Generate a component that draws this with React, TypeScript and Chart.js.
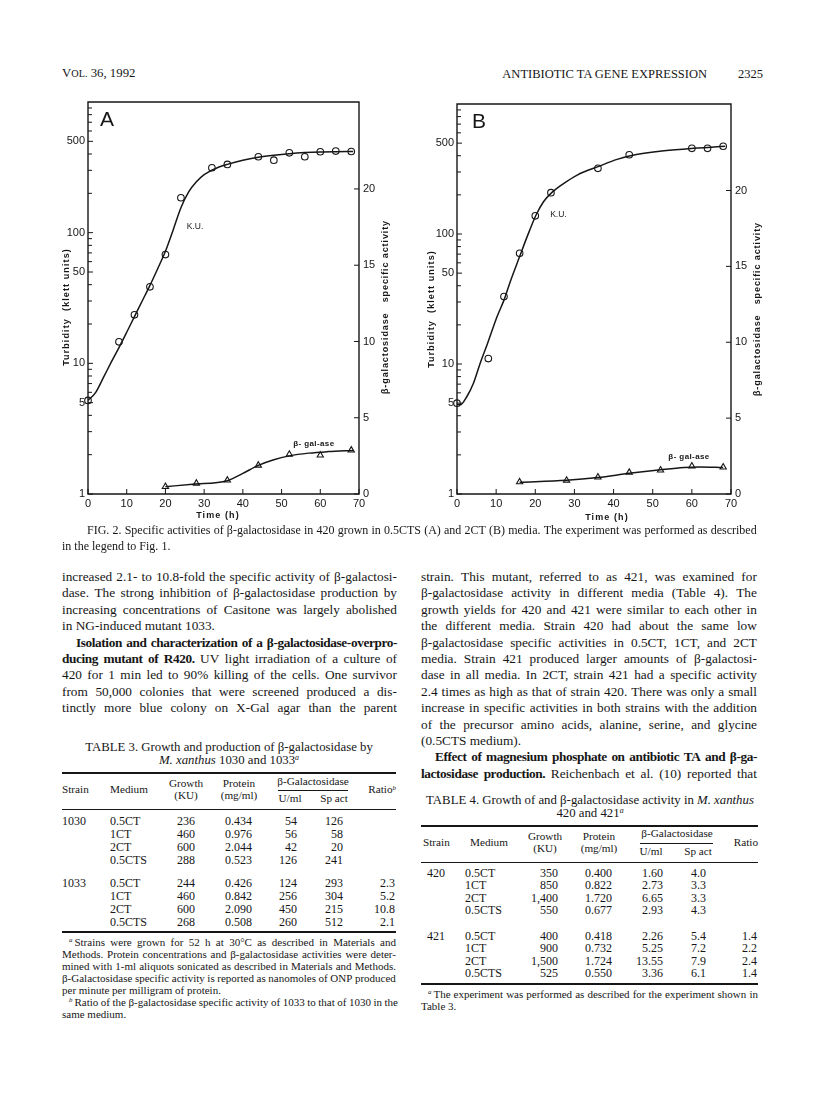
import React, { useEffect, useRef } from "react";
import { Chart, registerables } from "chart.js";

Chart.register(...registerables);

const INK = "#161616";
const SANS = '"Liberation Sans", Arial, Helvetica, sans-serif';
const SERIF = '"Liberation Serif", "Times New Roman", Times, serif';

// ---------- Figure 2A (0.5CTS) ----------
const kuHoursA = [0, 8, 12, 16, 20, 24, 32, 36, 44, 48, 52, 56, 60, 64, 68];
const kuValuesA = [5.2, 14.6, 23.5, 38.5, 68, 185, 314, 333, 381, 359, 408, 381, 416, 421, 418];
const kuCurveHoursA = [0, 2, 4, 6, 8, 10, 12, 14, 16, 18, 20, 22, 24, 26, 28, 30, 33, 36, 40, 44, 48, 52, 56, 60, 64, 68.5];
const kuCurveA = [5.2, 6.0, 7.8, 10.2, 13.2, 17.3, 22.8, 30, 39.5, 53, 72, 105, 155, 205, 245, 278, 310, 333, 358, 377, 391, 402, 410, 415, 417, 418];
const galHoursA = [20, 28, 36, 44, 52, 60, 68];
const galValuesA = [0.48, 0.7, 0.9, 1.88, 2.6, 2.54, 2.87];
const galCurveHoursA = [20, 27, 36, 40, 44, 48, 52, 57, 62, 68.5];
const galCurveA = [0.48, 0.64, 0.87, 1.35, 1.88, 2.25, 2.5, 2.68, 2.78, 2.86];

// ---------- Figure 2B (2CT) ----------
const kuHoursB = [0, 8, 12, 16, 20, 24, 36, 44, 60, 64, 68];
const kuValuesB = [5.0, 11.0, 33, 71, 138, 208, 320, 407, 456, 456, 473];
const kuCurveHoursB = [0, 0.8, 2.5, 4.2, 5.9, 7.8, 10.2, 12, 13.6, 16, 17.9, 20.2, 22.1, 24.2, 27.3, 30.7, 36.4, 40.9, 44.3, 47.8, 52.9, 60.4, 64.9, 68.5];
const kuCurveB = [4.9, 4.85, 5.6, 7.1, 10.1, 14.4, 23, 31, 43, 67, 95, 140, 177, 208, 245, 284, 333, 375, 400, 418, 437, 456, 465, 473];
const galHoursB = [16, 28, 36, 44, 52, 60, 68];
const galValuesB = [0.79, 0.9, 1.11, 1.42, 1.57, 1.84, 1.77];
const galCurveHoursB = [16, 28, 36, 44, 52, 58, 62, 68];
const galCurveB = [0.78, 0.9, 1.08, 1.36, 1.6, 1.75, 1.78, 1.74];

// ---------- Axis ticks ----------
const timeTicks = [0, 10, 20, 30, 40, 50, 60, 70];
const turbidityLabelTicks = [1, 5, 10, 50, 100, 500];
const turbidityMinorTicks = [2, 3, 4, 6, 7, 8, 9, 20, 30, 40, 60, 70, 80, 90, 200, 300, 400, 600, 700, 800, 900];
const activityTicks = [0, 5, 10, 15, 20];

// ---------- Table 3 ----------
const t3Media = ["0.5CT", "1CT", "2CT", "0.5CTS"];
const t3Growth1030 = ["236", "460", "600", "288"];
const t3Protein1030 = ["0.434", "0.976", "2.044", "0.523"];
const t3Uml1030 = ["54", "56", "42", "126"];
const t3SpAct1030 = ["126", "58", "20", "241"];
const t3Growth1033 = ["244", "460", "600", "268"];
const t3Protein1033 = ["0.426", "0.842", "2.090", "0.508"];
const t3Uml1033 = ["124", "256", "450", "260"];
const t3SpAct1033 = ["293", "304", "215", "512"];
const t3Ratio1033 = ["2.3", "5.2", "10.8", "2.1"];

// ---------- Table 4 ----------
const t4Media = ["0.5CT", "1CT", "2CT", "0.5CTS"];
const t4Growth420 = ["350", "850", "1,400", "550"];
const t4Protein420 = ["0.400", "0.822", "1.720", "0.677"];
const t4Uml420 = ["1.60", "2.73", "6.65", "2.93"];
const t4SpAct420 = ["4.0", "3.3", "3.3", "4.3"];
const t4Growth421 = ["400", "900", "1,500", "525"];
const t4Protein421 = ["0.418", "0.732", "1.724", "0.550"];
const t4Uml421 = ["2.26", "5.25", "13.55", "3.36"];
const t4SpAct421 = ["5.4", "7.2", "7.9", "6.1"];
const t4Ratio421 = ["1.4", "2.2", "2.4", "1.4"];

// ---------- Body text ----------
const leftColumnLines = [
  "increased 2.1- to 10.8-fold the specific activity of β-galactosi-",
  "dase. The strong inhibition of β-galactosidase production by",
  "increasing concentrations of Casitone was largely abolished",
  "in NG-induced mutant 1033.",
  "**Isolation and characterization of a β-galactosidase-overpro-**",
  "**ducing mutant of R420.** UV light irradiation of a culture of",
  "420 for 1 min led to 90% killing of the cells. One survivor",
  "from 50,000 colonies that were screened produced a dis-",
  "tinctly more blue colony on X-Gal agar than the parent",
];
const rightColumnLines = [
  "strain. This mutant, referred to as 421, was examined for",
  "β-galactosidase activity in different media (Table 4). The",
  "growth yields for 420 and 421 were similar to each other in",
  "the different media. Strain 420 had about the same low",
  "β-galactosidase specific activities in 0.5CT, 1CT, and 2CT",
  "media. Strain 421 produced larger amounts of β-galactosi-",
  "dase in all media. In 2CT, strain 421 had a specific activity",
  "2.4 times as high as that of strain 420. There was only a small",
  "increase in specific activities in both strains with the addition",
  "of the precursor amino acids, alanine, serine, and glycine",
  "(0.5CTS medium).",
  "**Effect of magnesium phosphate on antibiotic TA and β-ga-**",
  "**lactosidase production.** Reichenbach et al. (10) reported that",
];
const table3Notes = [
  "Strains were grown for 52 h at 30°C as described in Materials and",
  "Methods. Protein concentrations and β-galactosidase activities were deter-",
  "mined with 1-ml aliquots sonicated as described in Materials and Methods.",
  "β-Galactosidase specific activity is reported as nanomoles of ONP produced",
  "per minute per milligram of protein.",
  "Ratio of the β-galactosidase specific activity of 1033 to that of 1030 in the",
  "same medium.",
];

type PanelDef = {
  letter: string;
  canvas: { left: number; top: number; width: number; height: number };
  area: { left: number; right: number; top: number; bottom: number };
  kuHours: number[];
  kuValues: number[];
  kuCurveHours: number[];
  kuCurve: number[];
  galHours: number[];
  galValues: number[];
  galCurveHours: number[];
  galCurve: number[];
  kuLabel: [number, number];
  galLabel: [number, number];
  letterDx: number;
  leftTitleDx: number;
  rightTitleDx: number;
  timeTitleDx: number;
  timeTitleDy: number;
};

const panelA: PanelDef = {
  letter: "A",
  canvas: { left: 30, top: 80, width: 380, height: 460 },
  area: { left: 88, right: 359, top: 102, bottom: 494 },
  kuHours: kuHoursA,
  kuValues: kuValuesA,
  kuCurveHours: kuCurveHoursA,
  kuCurve: kuCurveA,
  galHours: galHoursA,
  galValues: galValuesA,
  galCurveHours: galCurveHoursA,
  galCurve: galCurveA,
  kuLabel: [25.5, 112],
  galLabel: [53, 3.3],
  letterDx: 12,
  leftTitleDx: -21,
  rightTitleDx: 27,
  timeTitleDx: 130,
  timeTitleDy: 22,
};

const panelB: PanelDef = {
  letter: "B",
  canvas: { left: 400, top: 80, width: 380, height: 460 },
  area: { left: 457, right: 731, top: 104, bottom: 494 },
  kuHours: kuHoursB,
  kuValues: kuValuesB,
  kuCurveHours: kuCurveHoursB,
  kuCurve: kuCurveB,
  galHours: galHoursB,
  galValues: galValuesB,
  galCurveHours: galCurveHoursB,
  galCurve: galCurveB,
  kuLabel: [23.8, 140],
  galLabel: [54, 2.45],
  letterDx: 15,
  leftTitleDx: -25,
  rightTitleDx: 27,
  timeTitleDx: 150,
  timeTitleDy: 24,
};

const zip = (xs: number[], ys: number[]) => xs.map((x, i) => ({ x, y: ys[i] }));

function PanelChart({ p }: { p: PanelDef }) {
  const ref = useRef<HTMLCanvasElement | null>(null);
  useEffect(() => {
    const canvas = ref.current;
    if (!canvas) return;
    const c = p.canvas;
    const a = p.area;
    const leftW = a.left - c.left;
    const rightW = c.left + c.width - a.right;
    const topPad = a.top - c.top;
    const bottomH = c.top + c.height - a.bottom;

    const line = (ctx: CanvasRenderingContext2D, x1: number, y1: number, x2: number, y2: number) => {
      ctx.beginPath();
      ctx.moveTo(x1, y1);
      ctx.lineTo(x2, y2);
      ctx.stroke();
    };

    const paperPlugin = {
      id: "paperAxes",
      afterDraw(chart: any) {
        const { ctx, chartArea: ar, scales } = chart;
        ctx.save();
        ctx.strokeStyle = INK;
        ctx.lineWidth = 1.4;
        ctx.beginPath();
        ctx.moveTo(ar.left, ar.top);
        ctx.lineTo(ar.right, ar.top);
        ctx.lineTo(ar.right, ar.bottom);
        ctx.lineTo(ar.left, ar.bottom);
        ctx.closePath();
        ctx.stroke();
        ctx.lineWidth = 1;
        for (const v of turbidityLabelTicks) {
          const y = scales.y.getPixelForValue(v);
          line(ctx, ar.left, y, ar.left + 5, y);
        }
        for (const v of turbidityMinorTicks) {
          const y = scales.y.getPixelForValue(v);
          line(ctx, ar.left, y, ar.left + 4, y);
        }
        for (const v of activityTicks) {
          const y = scales.y2.getPixelForValue(v);
          line(ctx, ar.right - 5, y, ar.right, y);
        }
        for (const v of timeTicks) {
          const x = scales.x.getPixelForValue(v);
          line(ctx, x, ar.bottom, x, ar.bottom - 5);
        }
        ctx.fillStyle = INK;
        ctx.textBaseline = "middle";
        ctx.textAlign = "left";
        ctx.font = `21px ${SANS}`;
        ctx.fillText(p.letter, ar.left + p.letterDx, ar.top + 18);
        ctx.font = `8.5px ${SANS}`;
        ctx.fillText("K.U.", scales.x.getPixelForValue(p.kuLabel[0]), scales.y.getPixelForValue(p.kuLabel[1]));
        ctx.font = `bold 8px ${SANS}`;
        (ctx as any).letterSpacing = "0.4px";
        ctx.fillText("β- gal-ase", scales.x.getPixelForValue(p.galLabel[0]), scales.y2.getPixelForValue(p.galLabel[1]));
        ctx.textAlign = "center";
        ctx.font = `bold 9px ${SANS}`;
        (ctx as any).letterSpacing = "1.1px";
        ctx.fillText("Time (h)", ar.left + p.timeTitleDx, ar.bottom + p.timeTitleDy);
        ctx.save();
        ctx.translate(ar.left + p.leftTitleDx, ar.top + 205);
        ctx.rotate(-Math.PI / 2);
        ctx.fillText("Turbidity  (klett units)", 0, 0);
        ctx.restore();
        ctx.save();
        (ctx as any).letterSpacing = "0.9px";
        ctx.translate(ar.right + p.rightTitleDx, ar.top + 205);
        ctx.rotate(-Math.PI / 2);
        ctx.fillText("β-galactosidase   specific activity", 0, 0);
        ctx.restore();
        ctx.restore();
      },
    };

    const tickFont = { family: SANS, size: 11 };
    const chart = new Chart(canvas, {
      type: "scatter",
      data: {
        datasets: [
          {
            label: "Turbidity curve",
            data: zip(p.kuCurveHours, p.kuCurve),
            showLine: true,
            cubicInterpolationMode: "monotone",
            borderColor: INK,
            borderWidth: 1.5,
            pointRadius: 0,
            yAxisID: "y",
          },
          {
            label: "Turbidity (K.U.)",
            data: zip(p.kuHours, p.kuValues),
            showLine: false,
            pointStyle: "circle",
            pointRadius: 3.3,
            pointBackgroundColor: "#ffffff",
            pointBorderColor: INK,
            pointBorderWidth: 1.1,
            clip: false,
            yAxisID: "y",
          },
          {
            label: "β-gal-ase curve",
            data: zip(p.galCurveHours, p.galCurve),
            showLine: true,
            cubicInterpolationMode: "monotone",
            borderColor: INK,
            borderWidth: 1.5,
            pointRadius: 0,
            yAxisID: "y2",
          },
          {
            label: "β-gal-ase",
            data: zip(p.galHours, p.galValues),
            showLine: false,
            pointStyle: "triangle",
            pointRadius: 3.6,
            pointBackgroundColor: "#ffffff",
            pointBorderColor: INK,
            pointBorderWidth: 1.1,
            clip: false,
            yAxisID: "y2",
          },
        ],
      } as any,
      options: {
        responsive: false,
        maintainAspectRatio: false,
        animation: false,
        devicePixelRatio: 1,
        events: [],
        layout: { padding: { top: topPad, left: 0, right: 0, bottom: 0 } },
        plugins: { legend: { display: false }, tooltip: { enabled: false } },
        scales: {
          x: {
            type: "linear",
            min: 0,
            max: 70,
            afterBuildTicks: (s: any) => {
              s.ticks = timeTicks.map((v) => ({ value: v }));
            },
            afterFit: (s: any) => {
              s.height = bottomH;
            },
            grid: { display: false, drawTicks: false },
            border: { display: false },
            ticks: { font: tickFont, color: INK, padding: 3, maxRotation: 0, autoSkip: false, callback: (v: any) => String(v) },
          },
          y: {
            type: "logarithmic",
            position: "left",
            min: 1,
            max: 1000,
            afterBuildTicks: (s: any) => {
              s.ticks = turbidityLabelTicks.map((v) => ({ value: v }));
            },
            afterFit: (s: any) => {
              s.width = leftW;
            },
            grid: { display: false, drawTicks: false },
            border: { display: false },
            ticks: { font: tickFont, color: INK, padding: 3, autoSkip: false, callback: (v: any) => String(v) },
          },
          y2: {
            type: "linear",
            position: "right",
            min: 0,
            max: 25.7,
            afterBuildTicks: (s: any) => {
              s.ticks = activityTicks.map((v) => ({ value: v }));
            },
            afterFit: (s: any) => {
              s.width = rightW;
            },
            grid: { display: false, drawTicks: false },
            border: { display: false },
            ticks: { font: tickFont, color: INK, padding: 4, autoSkip: false, callback: (v: any) => String(v) },
          },
        },
      } as any,
      plugins: [paperPlugin],
    });
    return () => chart.destroy();
  }, [p]);
  return (
    <canvas
      ref={ref}
      width={p.canvas.width}
      height={p.canvas.height}
      style={{ position: "absolute", left: p.canvas.left, top: p.canvas.top, width: p.canvas.width, height: p.canvas.height }}
    />
  );
}

function toWords(text: string) {
  const out: { t: string; b: boolean }[] = [];
  text.split("**").forEach((seg, i) => {
    seg
      .split(" ")
      .filter(Boolean)
      .forEach((t) => out.push({ t, b: i % 2 === 1 }));
  });
  return out;
}

const boldStyle: React.CSSProperties = { fontWeight: "bold", letterSpacing: "-0.4px" };

function JLine({
  x,
  y,
  w,
  size,
  text,
  indent = 0,
  justify = true,
  lead,
}: {
  x: number;
  y: number;
  w: number;
  size: number;
  text: string;
  indent?: number;
  justify?: boolean;
  lead?: React.ReactNode;
}) {
  const words = toWords(text);
  const base: React.CSSProperties = {
    position: "absolute",
    left: x,
    top: y - size * 0.68,
    width: w,
    fontSize: size,
    lineHeight: `${size * 1.2}px`,
    whiteSpace: "nowrap",
    paddingLeft: indent,
    boxSizing: "border-box",
  };
  if (justify) {
    return (
      <div style={{ ...base, display: "flex", justifyContent: "space-between", columnGap: 2.5 }}>
        {words.map((wd, i) => (
          <span key={i} style={wd.b ? boldStyle : undefined}>
            {i === 0 ? lead : null}
            {wd.t}
          </span>
        ))}
      </div>
    );
  }
  return (
    <div style={base}>
      {lead}
      {words.map((wd, i) => (
        <React.Fragment key={i}>
          {i > 0 ? " " : ""}
          <span style={wd.b ? boldStyle : undefined}>{wd.t}</span>
        </React.Fragment>
      ))}
    </div>
  );
}

function Cell({ x, y, align, size = 12, children }: { x: number; y: number; align: "left" | "right" | "center"; size?: number; children: React.ReactNode }) {
  const W = 500;
  const left = align === "left" ? x : align === "right" ? x - W : x - W / 2;
  return (
    <div
      style={{
        position: "absolute",
        left,
        top: y - size * 0.68,
        width: W,
        fontSize: size,
        lineHeight: `${size * 1.2}px`,
        textAlign: align,
        whiteSpace: "nowrap",
      }}
    >
      {children}
    </div>
  );
}

const H = 11.2; // table header text size

function Rule({ x1, x2, y, h = 1 }: { x1: number; x2: number; y: number; h?: number }) {
  return <div style={{ position: "absolute", left: x1, top: y - h / 2, width: x2 - x1, height: h, background: INK }} />;
}

const Sup = ({ c, gap = 0 }: { c: string; gap?: number }) => (
  <sup style={{ fontSize: "0.62em", fontStyle: "italic", verticalAlign: "0.45em", lineHeight: 0, marginRight: gap }}>{c}</sup>
);

function Table3() {
  const rows1 = [822, 835, 848, 861];
  const rows2 = [884, 897, 910, 923];
  const notesTop = 943;
  return (
    <>
      <Cell x={229} y={749} align="center" size={12.8}>
        TABLE 3. Growth and production of β-galactosidase by
      </Cell>
      <Cell x={229} y={762} align="center" size={12.8}>
        <i>M. xanthus</i> 1030 and 1033<Sup c="a" />
      </Cell>
      <Rule x1={62} x2={396} y={773} h={1.6} />
      <Cell x={62} y={791} align="left" size={H}>Strain</Cell>
      <Cell x={110} y={791} align="left" size={H}>Medium</Cell>
      <Cell x={186} y={785} align="center" size={H}>Growth</Cell>
      <Cell x={186} y={797} align="center" size={H}>(KU)</Cell>
      <Cell x={239} y={785} align="center" size={H}>Protein</Cell>
      <Cell x={239} y={797} align="center" size={H}>(mg/ml)</Cell>
      <Cell x={313} y={782.5} align="center" size={H}>β-Galactosidase</Cell>
      <Rule x1={278} x2={348} y={790.5} h={0.9} />
      <Cell x={290} y={800} align="center" size={H}>U/ml</Cell>
      <Cell x={334} y={800} align="center" size={H}>Sp act</Cell>
      <Cell x={396} y={791} align="right" size={H}>
        Ratio<Sup c="b" />
      </Cell>
      <Rule x1={62} x2={396} y={809} h={1} />
      <Cell x={62} y={rows1[0]} align="left">1030</Cell>
      {t3Media.map((m, i) => (
        <React.Fragment key={"a" + i}>
          <Cell x={110} y={rows1[i]} align="left">{m}</Cell>
          <Cell x={195} y={rows1[i]} align="right">{t3Growth1030[i]}</Cell>
          <Cell x={252} y={rows1[i]} align="right">{t3Protein1030[i]}</Cell>
          <Cell x={297} y={rows1[i]} align="right">{t3Uml1030[i]}</Cell>
          <Cell x={343} y={rows1[i]} align="right">{t3SpAct1030[i]}</Cell>
        </React.Fragment>
      ))}
      <Cell x={62} y={rows2[0]} align="left">1033</Cell>
      {t3Media.map((m, i) => (
        <React.Fragment key={"b" + i}>
          <Cell x={110} y={rows2[i]} align="left">{m}</Cell>
          <Cell x={195} y={rows2[i]} align="right">{t3Growth1033[i]}</Cell>
          <Cell x={252} y={rows2[i]} align="right">{t3Protein1033[i]}</Cell>
          <Cell x={297} y={rows2[i]} align="right">{t3Uml1033[i]}</Cell>
          <Cell x={343} y={rows2[i]} align="right">{t3SpAct1033[i]}</Cell>
          <Cell x={395} y={rows2[i]} align="right">{t3Ratio1033[i]}</Cell>
        </React.Fragment>
      ))}
      <Rule x1={62} x2={396} y={932} h={1.6} />
      {table3Notes.map((t, i) => {
        const y = notesTop + i * 12;
        const isLead = i === 0 || i === 5;
        const last = i === 4 || i === 6;
        return (
          <JLine
            key={i}
            x={62}
            y={y}
            w={334}
            size={11}
            text={t}
            indent={isLead ? 7 : 0}
            justify={!last}
            lead={isLead ? <Sup c={i === 0 ? "a" : "b"} gap={2} /> : undefined}
          />
        );
      })}
    </>
  );
}

function Table4() {
  const rows1 = [874, 886.5, 899, 911.5];
  const rows2 = [937, 949.5, 962, 974.5];
  return (
    <>
      <Cell x={590} y={802} align="center" size={12.8}>
        TABLE 4. Growth of and β-galactosidase activity in <i>M. xanthus</i>
      </Cell>
      <Cell x={590} y={815} align="center" size={12.8}>
        420 and 421<Sup c="a" />
      </Cell>
      <Rule x1={421} x2={758} y={826} h={1.6} />
      <Cell x={423} y={844} align="left" size={H}>Strain</Cell>
      <Cell x={470} y={844} align="left" size={H}>Medium</Cell>
      <Cell x={545} y={838} align="center" size={H}>Growth</Cell>
      <Cell x={545} y={850} align="center" size={H}>(KU)</Cell>
      <Cell x={599} y={838} align="center" size={H}>Protein</Cell>
      <Cell x={599} y={850} align="center" size={H}>(mg/ml)</Cell>
      <Cell x={677} y={835} align="center" size={H}>β-Galactosidase</Cell>
      <Rule x1={640} x2={713} y={843.5} h={0.9} />
      <Cell x={651} y={853} align="center" size={H}>U/ml</Cell>
      <Cell x={698} y={853} align="center" size={H}>Sp act</Cell>
      <Cell x={758} y={844} align="right" size={H}>Ratio</Cell>
      <Rule x1={421} x2={758} y={862} h={1} />
      <Cell x={436} y={rows1[0]} align="center">420</Cell>
      {t4Media.map((m, i) => (
        <React.Fragment key={"a" + i}>
          <Cell x={465} y={rows1[i]} align="left">{m}</Cell>
          <Cell x={558} y={rows1[i]} align="right">{t4Growth420[i]}</Cell>
          <Cell x={612} y={rows1[i]} align="right">{t4Protein420[i]}</Cell>
          <Cell x={663} y={rows1[i]} align="right">{t4Uml420[i]}</Cell>
          <Cell x={706} y={rows1[i]} align="right">{t4SpAct420[i]}</Cell>
        </React.Fragment>
      ))}
      <Cell x={436} y={rows2[0]} align="center">421</Cell>
      {t4Media.map((m, i) => (
        <React.Fragment key={"b" + i}>
          <Cell x={465} y={rows2[i]} align="left">{m}</Cell>
          <Cell x={558} y={rows2[i]} align="right">{t4Growth421[i]}</Cell>
          <Cell x={612} y={rows2[i]} align="right">{t4Protein421[i]}</Cell>
          <Cell x={663} y={rows2[i]} align="right">{t4Uml421[i]}</Cell>
          <Cell x={706} y={rows2[i]} align="right">{t4SpAct421[i]}</Cell>
          <Cell x={757} y={rows2[i]} align="right">{t4Ratio421[i]}</Cell>
        </React.Fragment>
      ))}
      <Rule x1={421} x2={758} y={984} h={1.6} />
      <JLine
        x={421}
        y={995}
        w={337}
        size={11}
        indent={7}
        text="The experiment was performed as described for the experiment shown in"
        lead={<Sup c="a" gap={2} />}
      />
      <JLine x={421} y={1007} w={337} size={11} justify={false} text="Table 3." />
    </>
  );
}

export default function App() {
  const bodySize = 13.3;
  const lineGap = 16.4;
  return (
    <div
      style={{
        position: "absolute",
        left: 0,
        top: 0,
        width: 816,
        height: 1098,
        background: "#ffffff",
        overflow: "hidden",
        color: INK,
        fontFamily: SERIF,
      }}
    >
      <Cell x={62} y={75} align="left" size={12.8}>
        V<span style={{ fontSize: "0.8em" }}>OL.</span> 36, 1992
      </Cell>
      <Cell x={707} y={75} align="right" size={12.5}>
        ANTIBIOTIC TA GENE EXPRESSION
      </Cell>
      <Cell x={763} y={75} align="right" size={12.5}>
        2325
      </Cell>

      <PanelChart p={panelA} />
      <PanelChart p={panelB} />

      <JLine
        x={62}
        y={531}
        w={695}
        size={12}
        indent={25}
        text="FIG. 2. Specific activities of β-galactosidase in 420 grown in 0.5CTS (A) and 2CT (B) media. The experiment was performed as described"
      />
      <JLine x={62} y={547} w={695} size={12} justify={false} text="in the legend to Fig. 1." />

      {leftColumnLines.map((t, i) => (
        <JLine
          key={"l" + i}
          x={62}
          y={578 + i * lineGap}
          w={335}
          size={bodySize}
          text={t}
          indent={i === 4 ? 14 : 0}
          justify={i !== 3}
        />
      ))}

      {rightColumnLines.map((t, i) => (
        <JLine
          key={"r" + i}
          x={421}
          y={578 + i * lineGap}
          w={336}
          size={bodySize}
          text={t}
          indent={i === 11 ? 14 : 0}
          justify={i !== 10}
        />
      ))}

      <Table3 />
      <Table4 />
    </div>
  );
}
